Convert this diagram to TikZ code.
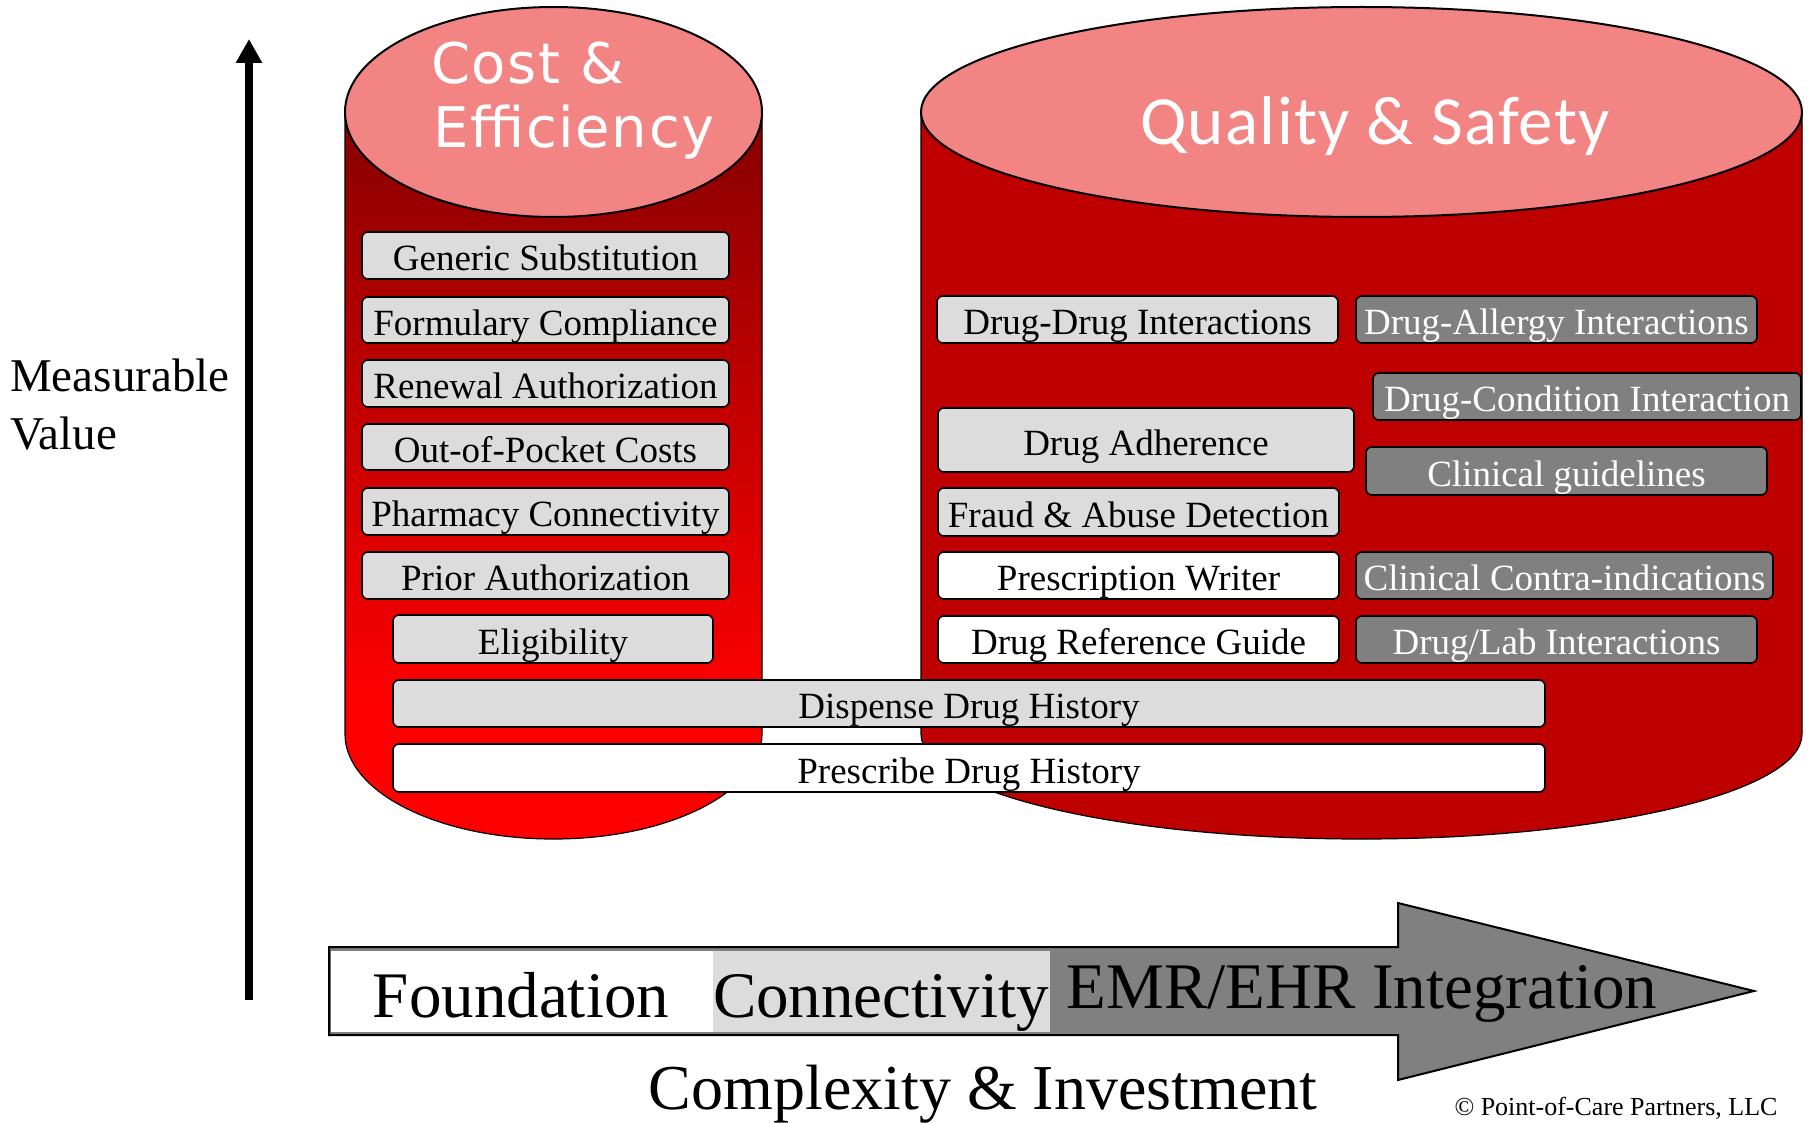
\documentclass[tikz,border=0pt]{standalone}
\usepackage{fontspec}
\setmainfont{Liberation Serif}
\newfontfamily\dejavu[LetterSpace=3]{DejaVu Sans}
\newfontfamily\carlito[LetterSpace=2]{Carlito}
\usetikzlibrary{arrows.meta}
\definecolor{lgray}{RGB}{220,220,220}
\definecolor{dgray}{RGB}{128,128,128}
\definecolor{pinktop}{RGB}{242,132,132}
\definecolor{bodyred}{RGB}{190,0,0}
\definecolor{darkbody}{RGB}{135,0,0}
\pgfdeclareverticalshading{cylgrad}{100bp}{color(0bp)=(red); color(34bp)=(red); color(75bp)=(darkbody); color(100bp)=(darkbody)}
\newcommand\bx[7]{\node[#1, minimum width={#4-#3}, minimum height={#6-#5}] (#2) at ({(#3+#4)/2},{(#5+#6)/2}) {#7};}
\begin{document}
\begin{tikzpicture}[x=1pt,y=-1pt,
  box/.style={draw=black, line width=1.6pt, rounded corners=6pt, inner sep=0pt,
    font=\fontsize{37}{37}\selectfont, text height=34pt, text depth=4pt},
  lbox/.style={box, fill=lgray},
  wbox/.style={box, fill=white},
  dbox/.style={box, fill=dgray, text=white},
  toptext/.style={text=white, inner sep=0pt},
  bigtext/.style={font=\fontsize{65}{65}\selectfont, anchor=base, inner sep=0pt},
]
\useasboundingbox[fill=white] (0,0) rectangle (1812,1123);

% left cylinder
\shade[shading=cylgrad] (345,112) -- (345,734) arc[start angle=180,end angle=360,x radius=208.5pt,y radius=105pt] -- (762,112) -- cycle;
\draw[line width=1.2pt] (345,112) -- (345,734) arc[start angle=180,end angle=360,x radius=208.5pt,y radius=105pt] -- (762,112);
\draw[fill=pinktop, line width=2pt] (553.5,112) ellipse[x radius=208.5pt, y radius=105pt];

% right cylinder
\fill[bodyred] (921,112) -- (921,734) arc[start angle=180,end angle=360,x radius=440.5pt,y radius=105pt] -- (1802,112) -- cycle;
\draw[line width=1.2pt] (921,112) -- (921,734) arc[start angle=180,end angle=360,x radius=440.5pt,y radius=105pt] -- (1802,112);
\draw[fill=pinktop, line width=2pt] (1361.5,112) ellipse[x radius=440.5pt, y radius=105pt];

% titles
\node[toptext, font=\dejavu\fontsize{56}{56}\selectfont, anchor=base west] (ce1) at (431,84) {Cost \&};
\node[toptext, font=\dejavu\fontsize{56}{56}\selectfont, anchor=base west] (ce2) at (433,148) {Efficiency};
\node[toptext, font=\carlito\fontsize{69}{69}\selectfont, anchor=base] (qs) at (1375,145) {Quality \& Safety};

% left boxes
\bx{lbox}{gs}{362}{729}{232}{279}{Generic Substitution}
\bx{lbox}{fc}{362}{729}{297}{343}{Formulary Compliance}
\bx{lbox}{ra}{362}{729}{360}{407}{Renewal Authorization}
\bx{lbox}{oc}{362}{729}{424}{470}{Out-of-Pocket Costs}
\bx{lbox}{pc}{362}{729}{488}{535}{Pharmacy Connectivity}
\bx{lbox}{pa}{362}{729}{552}{599}{Prior Authorization}
\bx{lbox}{el}{393}{713}{615}{663}{Eligibility}
\bx{lbox}{dd}{393}{1545}{680}{727}{Dispense Drug History}
\bx{wbox}{pd}{393}{1545}{744}{792}{Prescribe Drug History}

% right boxes
\bx{lbox}{ddi}{937}{1338}{296}{343}{Drug-Drug Interactions}
\bx{dbox}{dai}{1356}{1757}{296}{343}{Drug-Allergy Interactions}
\bx{dbox}{dci}{1373}{1801}{373}{420}{Drug-Condition Interaction}
\bx{lbox}{da}{938}{1354}{408}{472}{Drug Adherence}
\bx{dbox}{cg}{1366}{1767}{447}{495}{Clinical guidelines}
\bx{lbox}{fad}{938}{1339}{488}{536}{Fraud \& Abuse Detection}
\bx{wbox}{pw}{938}{1339}{552}{599}{Prescription Writer}
\bx{dbox}{cci}{1356}{1773}{552}{599}{Clinical Contra-indications}
\bx{wbox}{drg}{938}{1339}{616}{663}{Drug Reference Guide}
\bx{dbox}{dli}{1356}{1757}{616}{663}{Drug/Lab Interactions}

% vertical axis
\coordinate (vbot) at (249,1000);
\coordinate (vtop) at (249,39);
\draw[line width=8pt, -{Triangle[width=25pt,length=24pt]}] (vbot) -- (vtop);
\node[font=\fontsize{47}{47}\selectfont, anchor=base west, inner sep=0pt] (mv1) at (10,391) {Measurable};
\node[font=\fontsize{47}{47}\selectfont, anchor=base west, inner sep=0pt] (mv2) at (10,449) {Value};

% bottom arrow
\draw[fill=dgray, line width=2pt] (329,947) -- (1398,947) -- (1398,903) -- (1754,991) -- (1398,1080) -- (1398,1035) -- (329,1035) -- cycle;
\node[fill=white, inner sep=0pt, minimum width=382.5, minimum height=81, anchor=north west] (fnd) at (330.5,950.5) {};
\node[fill=lgray, inner sep=0pt, minimum width=337, minimum height=81, anchor=north west] (con) at (713,950.5) {};
\node[bigtext] (tf) at (521,1017) {Foundation};
\node[bigtext] (tc) at (881,1017) {Connectivity};
\node[bigtext] (te) at (1362,1008) {EMR/EHR Integration};
\node[font=\fontsize{64}{64}\selectfont, anchor=base, inner sep=0pt] (ci) at (983,1109) {Complexity \& Investment};
\node[font=\fontsize{26}{26}\selectfont, anchor=base, inner sep=0pt] (cp) at (1616,1115) {© Point-of-Care Partners, LLC};
\end{tikzpicture}
\end{document}
